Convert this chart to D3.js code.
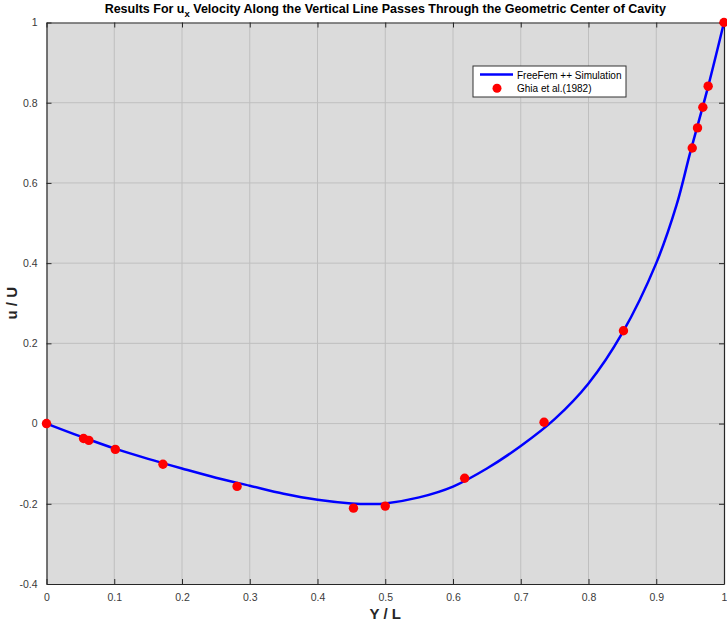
<!DOCTYPE html>
<html>
<head>
<meta charset="utf-8">
<script src="https://cdn.jsdelivr.net/npm/d3@7"></script>
<style>
  html, body { margin: 0; padding: 0; background: #ffffff; }
  svg { display: block; font-family: "Liberation Sans", Arial, sans-serif; }
</style>
</head>
<body>
<svg id="chart" width="727" height="624"></svg>
<script>
// FreeFem++ simulation: u/U along the vertical centre line
const simY = [0, 0.05, 0.10, 0.15, 0.20, 0.25, 0.30, 0.35, 0.40, 0.45, 0.48, 0.50, 0.55, 0.60, 0.65, 0.70, 0.75, 0.80, 0.85, 0.90, 0.93, 0.95, 0.975, 1.0];
const simU = [0, -0.032, -0.062, -0.088, -0.112, -0.135, -0.155, -0.175, -0.190, -0.199, -0.2005, -0.199, -0.184, -0.157, -0.112, -0.056, 0.011, 0.100, 0.226, 0.400, 0.545, 0.675, 0.830, 1.0];

// Ghia, Ghia & Shin (1982), Re = 100 benchmark
const ghiaY = [0.0000, 0.0547, 0.0625, 0.1016, 0.1719, 0.2813, 0.4531, 0.5000, 0.6172, 0.7344, 0.8516, 0.9531, 0.9609, 0.9688, 0.9766, 1.0000];
const ghiaU = [0.00000, -0.03717, -0.04192, -0.06434, -0.10150, -0.15662, -0.21090, -0.20581, -0.13641, 0.00332, 0.23151, 0.68717, 0.73722, 0.78871, 0.84123, 1.00000];

const xTicks = [0, 0.1, 0.2, 0.3, 0.4, 0.5, 0.6, 0.7, 0.8, 0.9, 1];
const yTicks = [-0.4, -0.2, 0, 0.2, 0.4, 0.6, 0.8, 1];

const legendLabels = ["FreeFem ++ Simulation", "Ghia et al.(1982)"];

const svg = d3.select("#chart");
const margin = { left: 46.5, right: 3, top: 22.5, bottom: 40 };
const W = 727, H = 624;
const x0 = margin.left, x1 = W - margin.right, y0 = margin.top, y1 = H - margin.bottom;

const x = d3.scaleLinear().domain([0, 1]).range([x0, x1]);
const y = d3.scaleLinear().domain([-0.4, 1]).range([y1, y0]);

// plot background
svg.append("rect").attr("x", x0).attr("y", y0).attr("width", x1 - x0).attr("height", y1 - y0)
  .attr("fill", "#dbdbdb");

// grid
const grid = svg.append("g").attr("stroke", "#bfbfbf").attr("stroke-width", 1);
xTicks.slice(1, -1).forEach(t => grid.append("line")
  .attr("x1", x(t)).attr("x2", x(t)).attr("y1", y0).attr("y2", y1));
yTicks.slice(1, -1).forEach(t => grid.append("line")
  .attr("x1", x0).attr("x2", x1).attr("y1", y(t)).attr("y2", y(t)));

// axes with inward ticks on all four sides
const fmt = d => String(+d.toFixed(1));
const axisColor = "#262626";
function styleAxis(g) {
  g.select(".domain").attr("stroke", axisColor).attr("stroke-width", 1.2);
  g.selectAll(".tick line").attr("stroke", axisColor).attr("stroke-width", 1);
  g.selectAll(".tick text").attr("fill", "#3a3a3a").attr("font-size", 10.5)
    .attr("font-family", "Liberation Sans, Arial, sans-serif");
}
svg.append("g").attr("transform", `translate(0,${y1})`)
  .call(d3.axisBottom(x).tickValues(xTicks).tickFormat(fmt).tickSizeInner(-5).tickSizeOuter(0).tickPadding(10))
  .call(styleAxis);
svg.append("g").attr("transform", `translate(0,${y0})`)
  .call(d3.axisTop(x).tickValues(xTicks).tickFormat("").tickSizeInner(-5).tickSizeOuter(0))
  .call(styleAxis);
svg.append("g").attr("transform", `translate(${x0},0)`)
  .call(d3.axisLeft(y).tickValues(yTicks).tickFormat(fmt).tickSizeInner(-5).tickSizeOuter(0).tickPadding(9))
  .call(styleAxis);
svg.append("g").attr("transform", `translate(${x1},0)`)
  .call(d3.axisRight(y).tickValues(yTicks).tickFormat("").tickSizeInner(-5).tickSizeOuter(0))
  .call(styleAxis);

// simulation curve
const simData = simY.map((v, i) => [v, simU[i]]);
svg.append("path").datum(simData)
  .attr("fill", "none").attr("stroke", "#0000ff").attr("stroke-width", 2.5)
  .attr("d", d3.line().x(d => x(d[0])).y(d => y(d[1])).curve(d3.curveCatmullRom.alpha(0.5)));

// benchmark points
svg.append("g").selectAll("circle").data(ghiaY.map((v, i) => [v, ghiaU[i]])).join("circle")
  .attr("cx", d => x(d[0])).attr("cy", d => y(d[1])).attr("r", 4.7).attr("fill", "#ff0000");

// legend
const lg = svg.append("g");
lg.append("rect").attr("x", 473).attr("y", 66).attr("width", 153).attr("height", 31)
  .attr("fill", "#ffffff").attr("stroke", "#333333").attr("stroke-width", 1);
lg.append("line").attr("x1", 480).attr("x2", 513).attr("y1", 74.5).attr("y2", 74.5)
  .attr("stroke", "#0000ff").attr("stroke-width", 2.5);
lg.append("circle").attr("cx", 497).attr("cy", 88.3).attr("r", 4.5).attr("fill", "#ff0000");
lg.append("text").attr("x", 517).attr("y", 78.5).attr("font-size", 10).attr("fill", "#000").text(legendLabels[0]);
lg.append("text").attr("x", 517).attr("y", 92).attr("font-size", 10).attr("fill", "#000").text(legendLabels[1]);

// title with subscript
const title = svg.append("text").attr("x", (x0 + x1) / 2).attr("y", 13).attr("text-anchor", "middle")
  .attr("font-size", 12.5).attr("font-weight", "bold").attr("fill", "#000");
title.append("tspan").text("Results For u");
title.append("tspan").attr("dy", 4).attr("font-size", 9.5).text("x");
title.append("tspan").attr("dy", -4).text(" Velocity Along the Vertical Line Passes Through the Geometric Center of Cavity");

// axis labels
svg.append("text").attr("x", (x0 + x1) / 2).attr("y", 619).attr("text-anchor", "middle")
  .attr("font-size", 15).attr("font-weight", "bold").attr("fill", "#262626").text("Y / L");
svg.append("text").attr("transform", `translate(17,${(y0 + y1) / 2}) rotate(-90)`).attr("text-anchor", "middle")
  .attr("font-size", 15).attr("font-weight", "bold").attr("fill", "#262626").text("u / U");
</script>
</body>
</html>
